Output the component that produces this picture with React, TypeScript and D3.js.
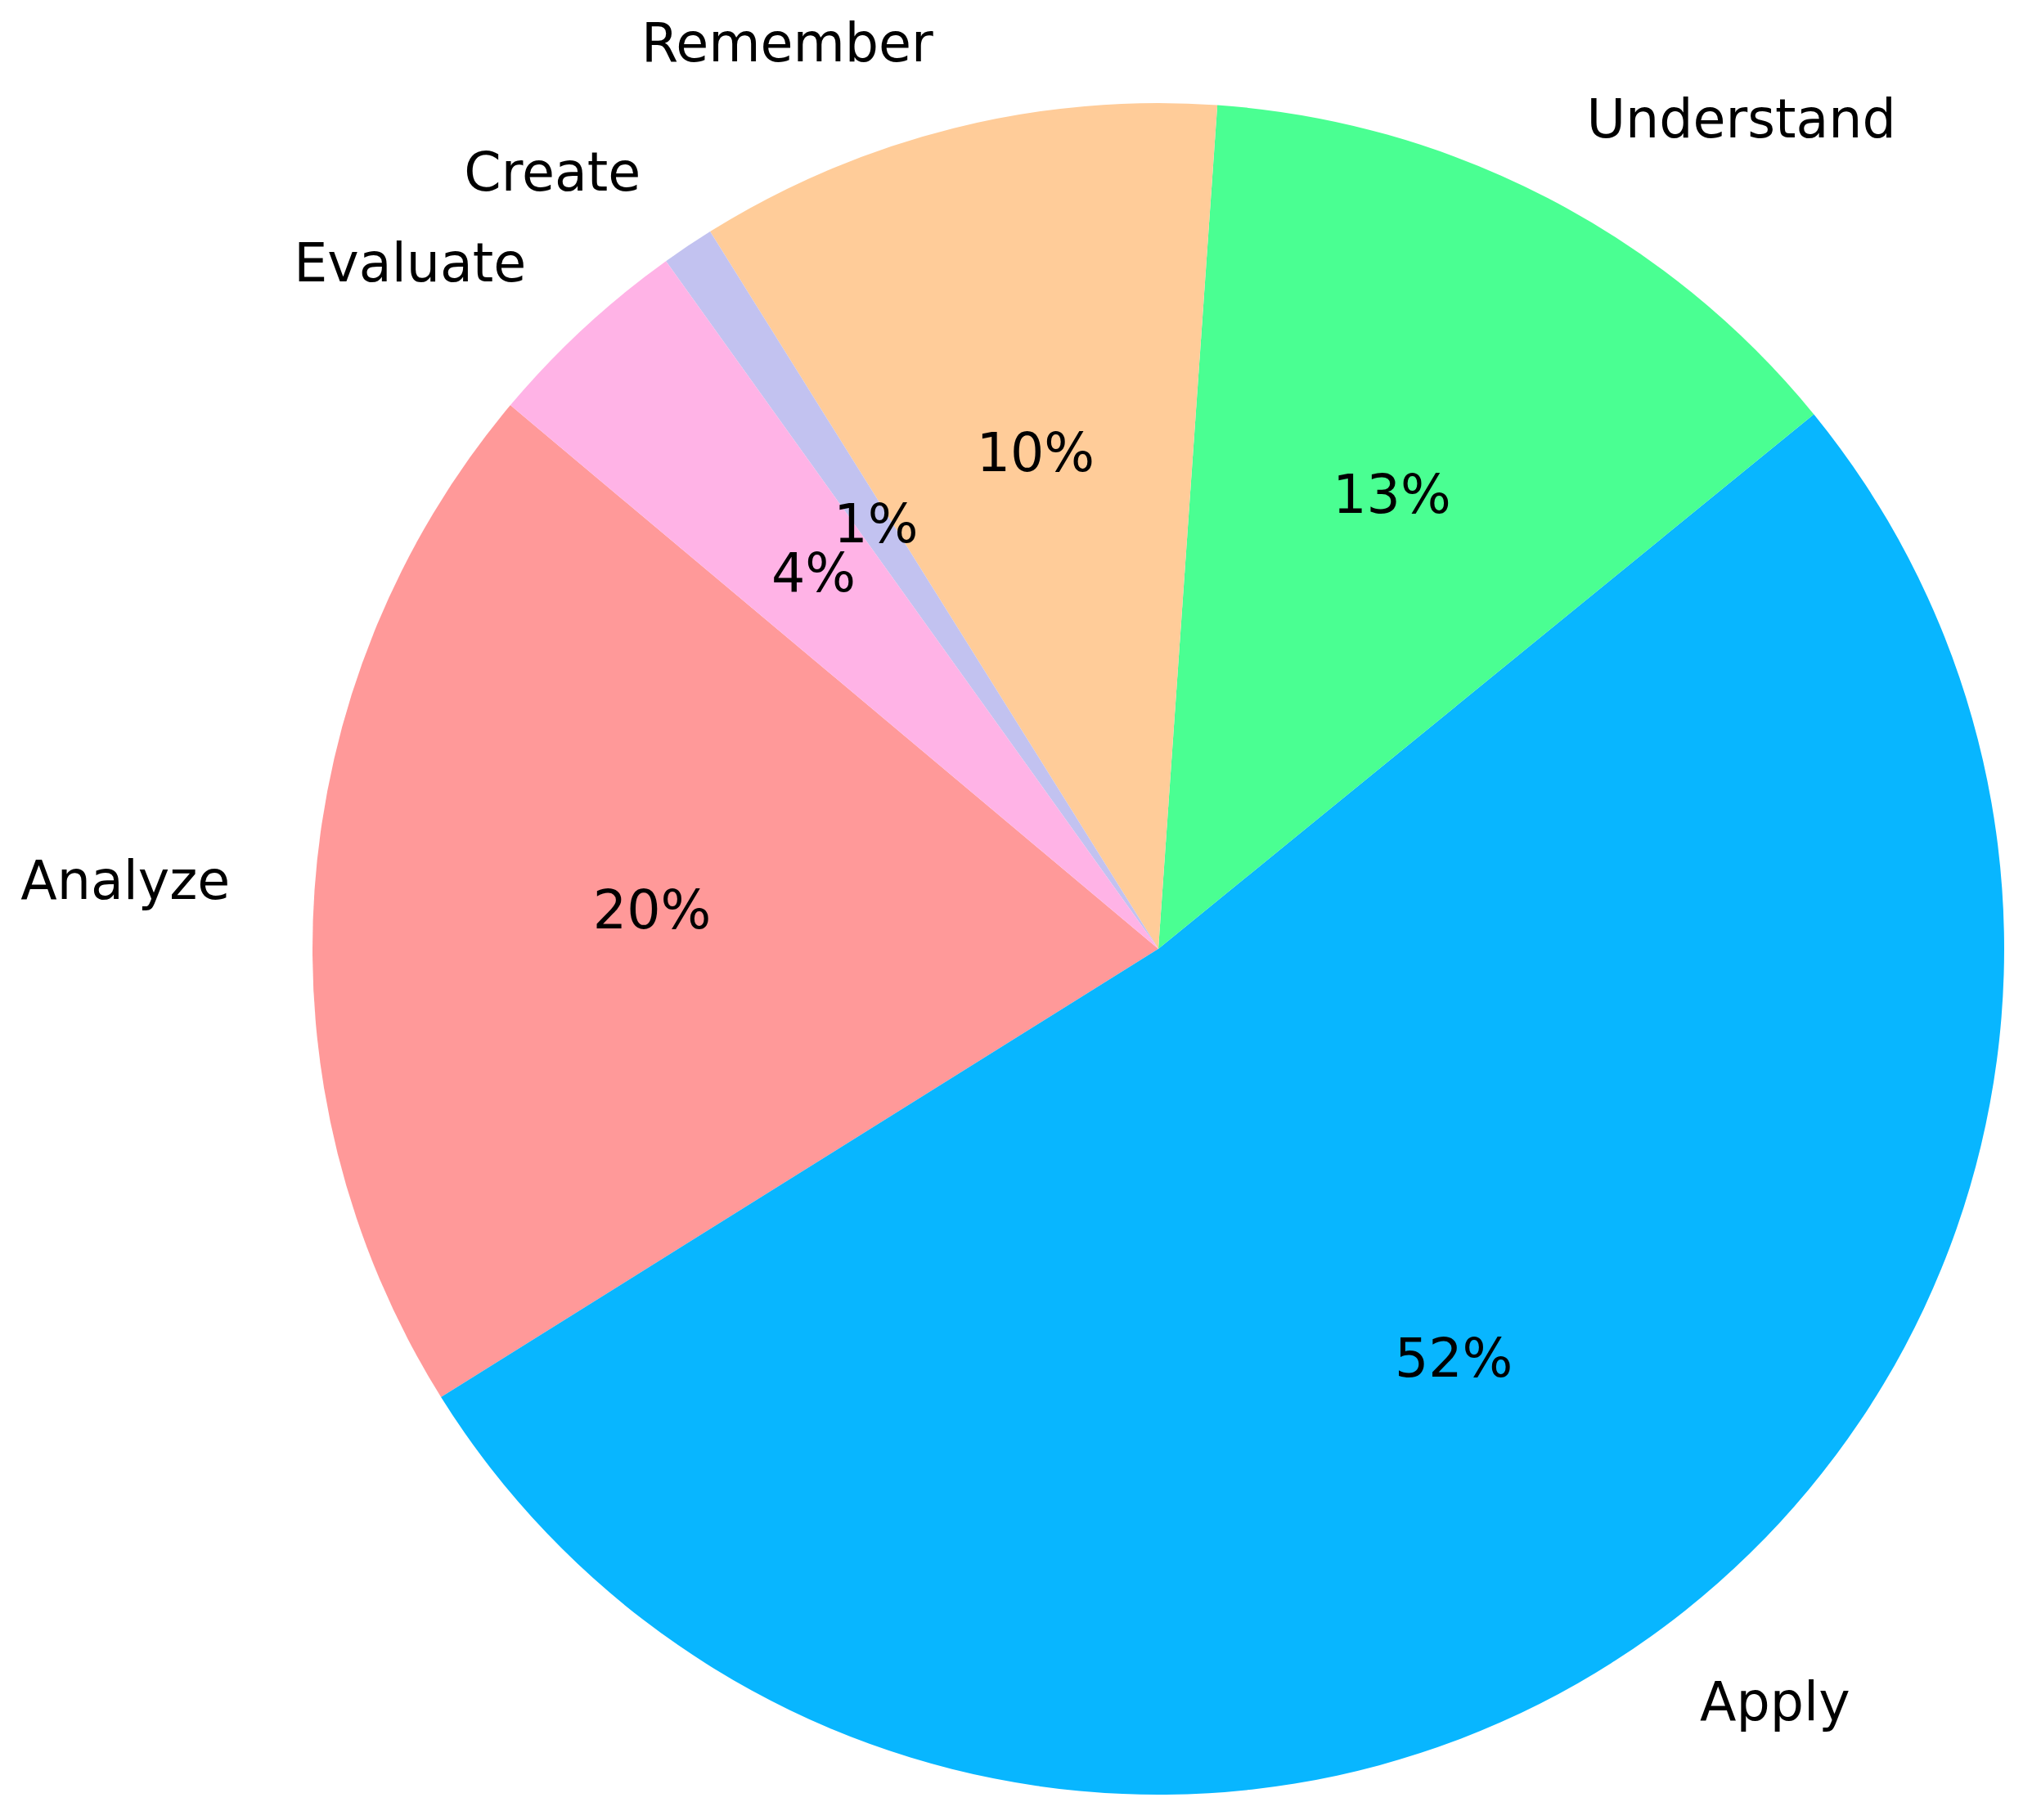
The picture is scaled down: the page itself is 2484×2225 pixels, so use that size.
import React from "react";
import * as d3 from "d3";

const categories = ["Analyze", "Apply", "Understand", "Remember", "Create", "Evaluate"];
const values = [20, 52, 13, 10, 1, 4];
const colors = ["#ff9999", "#08b6ff", "#4aff92", "#ffcc99", "#c2c2f0", "#ffb3e6"];

const W = 2484;
const H = 2225;
const CX = 1416;
const CY = 1160;
const R = 1034;
const START_DEG = 140; // matplotlib-style start angle (counterclockwise from 3 o'clock)
const FS = 65;
const FONT = "'DejaVu Sans', sans-serif";

export default function App() {
  const rad = (d: number) => (d * Math.PI) / 180;
  const start = rad(90 - START_DEG);
  const pie = d3
    .pie<number>()
    .sort(null)
    .value((d) => d)
    .startAngle(start)
    .endAngle(start - 2 * Math.PI);
  const arcs = pie(values);
  const arcGen = d3.arc<d3.PieArcDatum<number>>().innerRadius(0).outerRadius(R);
  const total = d3.sum(values);
  const pos = (a: number, r: number) => [CX + r * Math.sin(a), CY - r * Math.cos(a)];

  return (
    <svg
      width={W}
      height={H}
      style={{ position: "absolute", left: 0, top: 0, background: "#fff" }}
      fontFamily={FONT}
    >
      <rect x={0} y={0} width={W} height={H} fill="#ffffff" />
      <g transform={`translate(${CX},${CY})`}>
        {arcs.map((a, i) => (
          <path key={categories[i]} d={arcGen(a) || ""} fill={colors[i]} />
        ))}
      </g>
      {arcs.map((a, i) => {
        const mid = (a.startAngle + a.endAngle) / 2;
        const [lx, ly] = pos(mid, R * 1.1);
        const [px, py] = pos(mid, R * 0.6);
        const pct = Math.round((values[i] / total) * 100);
        return (
          <g key={"t" + categories[i]}>
            <text
              x={lx}
              y={ly + FS * 0.28}
              fontSize={FS}
              fill="#000"
              textAnchor={lx > CX ? "start" : "end"}
            >
              {categories[i]}
            </text>
            <text x={px} y={py + FS * 0.28} fontSize={FS} fill="#000" textAnchor="middle">
              {`${pct}%`}
            </text>
          </g>
        );
      })}
    </svg>
  );
}
